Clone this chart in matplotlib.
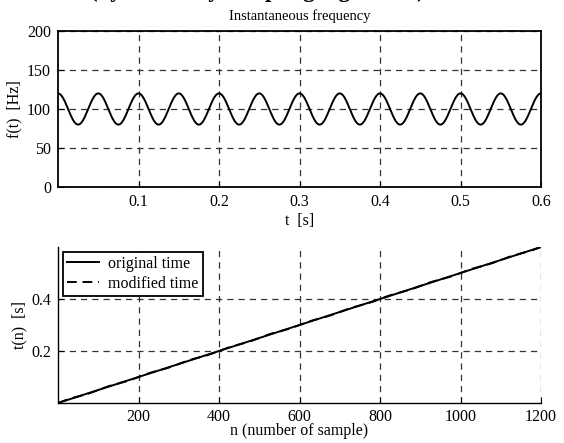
import numpy as np
import matplotlib
matplotlib.use("Agg")
import matplotlib.pyplot as plt

# ---- data ----
f_carrier = 100.0      # Hz, centre of instantaneous frequency
f_dev = 20.0           # Hz, deviation (80..120)
f_mod = 20.0           # Hz, modulation rate (peaks every 0.05 s)
t_end = 0.6            # s
n_samples = 1200       # number of samples
top_xticks = [0.1, 0.2, 0.3, 0.4, 0.5, 0.6]
top_yticks = [0, 50, 100, 150, 200]
bot_xticks = [200, 400, 600, 800, 1000, 1200]
bot_yticks = [0.2, 0.4]
legend_labels = ["original time", "modified time"]

fs = n_samples / t_end
t = np.arange(0, n_samples + 1) / fs
f_inst = f_carrier + f_dev * np.cos(2 * np.pi * f_mod * t)
n = np.arange(0, n_samples + 1)
t_orig = n / fs
# modified time: integrate normalised instantaneous frequency
t_mod = np.concatenate([[0], np.cumsum(f_inst[:-1] / f_carrier) / fs])

plt.rcParams['font.family'] = ['Liberation Serif', 'DejaVu Serif']
plt.rcParams['font.size'] = 11

fig = plt.figure(figsize=(5.64, 4.43), dpi=100)
L, W, H = 58 / 564, 483 / 564, 156 / 443
ax1 = fig.add_axes([L, 1 - 187 / 443, W, H])
ax2 = fig.add_axes([L, 1 - 403 / 443, W, H])

grid_kw = dict(color='#333333', linestyle=(0, (5, 4)), linewidth=0.9)

ax1.plot(t, f_inst, color='black', linewidth=1.4)
ax1.set_xlim(0, t_end)
ax1.set_ylim(0, 200)
ax1.set_xticks(top_xticks)
ax1.set_yticks(top_yticks)
ax1.grid(True, **grid_kw)
ax1.set_xlabel('t  [s]', labelpad=2, fontsize=11.5)
ax1.set_ylabel('f(t)  [Hz]', labelpad=3, fontsize=11.5)
ax1.set_title('Instantaneous frequency', fontsize=10.5, pad=8)
for s in ax1.spines.values():
    s.set_linewidth(1.3)

ax2.plot(n, t_orig, color='black', linewidth=1.4, label=legend_labels[0])
ax2.plot(n, t_mod, color='black', linewidth=1.4, linestyle=(0, (5, 3)), label=legend_labels[1])
ax2.set_xlim(0, n_samples)
ax2.set_ylim(0, 0.6)
ax2.set_xticks(bot_xticks)
ax2.set_yticks(bot_yticks)
ax2.grid(True, **grid_kw)
ax2.set_xlabel('n (number of sample)', labelpad=-1, fontsize=11.5)
ax2.set_ylabel('t(n)  [s]', labelpad=3, fontsize=11.5)
ax2.spines['top'].set_visible(False)
ax2.spines['right'].set_visible(False)
ax2.spines['left'].set_linewidth(1.0)
ax2.spines['bottom'].set_linewidth(1.0)
leg = ax2.legend(loc='upper left', fontsize=11.5, frameon=True, fancybox=False,
                 edgecolor='black', framealpha=1, borderaxespad=0.3,
                 handlelength=2.0, handletextpad=0.6, borderpad=0.25,
                 labelspacing=0.25)
leg.get_frame().set_linewidth(1.3)

for ax in (ax1, ax2):
    ax.tick_params(direction='in', length=4, width=0.8, pad=5, labelsize=11.5)
ax2.tick_params(axis='x', pad=4)

fig.text(0.456, 1 + 3.5 / 443, '(by a velocity sampling algorithm)', fontsize=16.5,
         fontweight='bold', ha='center', va='baseline')

fig.savefig('out.png', dpi=100)
